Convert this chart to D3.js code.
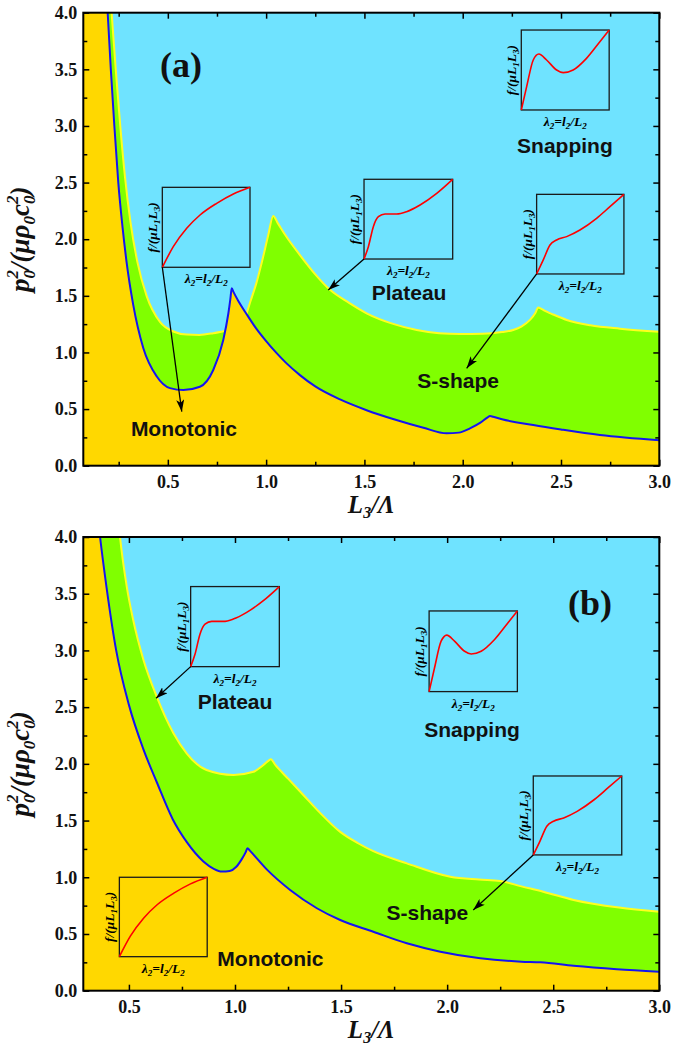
<!DOCTYPE html>
<html><head><meta charset="utf-8">
<script src="https://cdn.jsdelivr.net/npm/d3@7"></script>
<style>body{margin:0;background:#fff}svg{display:block}</style>
</head><body>
<svg id="c" width="675" height="1049"></svg>
<script>
// ---------- DATA ----------
const xTickValues = [0.5, 1.0, 1.5, 2.0, 2.5, 3.0];
const yTickValues = [0, 0.5, 1.0, 1.5, 2.0, 2.5, 3.0, 3.5, 4.0];

// Panel (a) boundaries
const blueA_x = [0.185,0.194,0.21,0.228,0.248,0.27,0.29,0.324,0.375,0.443,0.511,0.579,0.663,0.731,0.782,0.808,0.818,0.825,0.835,0.86,0.9,0.95,1.0,1.05,1.1,1.172,1.25,1.376,1.511,1.65,1.8,1.918,1.98,2.037,2.09,2.125,2.139,2.155,2.2,2.359,2.5,2.698,3.0];
const blueA_y = [4.3,4.0,3.5,3.0,2.5,2.1,1.8,1.42,1.04,0.79,0.685,0.668,0.697,0.845,1.11,1.346,1.47,1.566,1.53,1.45,1.34,1.21,1.10,1.00,0.91,0.80,0.70,0.585,0.49,0.41,0.335,0.286,0.292,0.33,0.38,0.425,0.439,0.432,0.41,0.359,0.32,0.271,0.225];
const yellowA1_x = [0.205,0.214,0.235,0.258,0.282,0.31,0.345,0.392,0.46,0.528,0.596,0.66,0.731,0.79];
const yellowA1_y = [4.2,4.0,3.5,3.0,2.55,2.15,1.8,1.50,1.27,1.185,1.158,1.155,1.17,1.19];
const yellowA2_x = [0.9,0.92,0.95,0.98,1.01,1.036,1.06,1.1,1.172,1.25,1.325,1.42,1.511,1.65,1.766,1.88,1.986,2.1,2.2,2.257,2.30,2.342,2.37,2.384,2.40,2.427,2.46,2.529,2.65,2.8,3.0];
const yellowA2_y = [1.34,1.45,1.61,1.81,2.03,2.205,2.14,2.03,1.86,1.69,1.553,1.44,1.346,1.25,1.198,1.17,1.163,1.165,1.18,1.198,1.23,1.287,1.35,1.398,1.385,1.36,1.335,1.287,1.24,1.21,1.183];

// Panel (b) boundaries
const blueB_x = [0.355,0.364,0.395,0.44,0.50,0.568,0.631,0.707,0.773,0.851,0.90,0.938,0.975,1.005,1.032,1.05,1.059,1.07,1.152,1.26,1.386,1.496,1.652,1.81,1.968,2.156,2.35,2.44,2.596,2.8,3.0];
const blueB_y = [4.15,4.0,3.55,3.0,2.52,2.13,1.84,1.51,1.31,1.14,1.075,1.05,1.055,1.09,1.16,1.22,1.256,1.235,1.065,0.888,0.727,0.623,0.52,0.418,0.344,0.286,0.256,0.25,0.22,0.19,0.168];
const yellowB_x = [0.45,0.458,0.49,0.52,0.568,0.631,0.71,0.772,0.866,0.993,1.087,1.134,1.16,1.169,1.19,1.25,1.32,1.40,1.496,1.58,1.652,1.81,2.015,2.15,2.25,2.35,2.453,2.596,2.81,3.0];
const yellowB_y = [4.15,4.0,3.56,3.27,2.92,2.593,2.27,2.093,1.946,1.902,1.93,1.99,2.03,2.04,1.99,1.87,1.73,1.57,1.40,1.30,1.23,1.123,1.005,0.98,0.967,0.92,0.873,0.80,0.733,0.697];

// Inset curves (normalised stretch vs. force)
const monoX = [0,0.125,0.278,0.43,0.62,0.81,1];
const monoY = [0,0.258,0.4875,0.654,0.8,0.917,1];
const platX = [0,0.049,0.105,0.162,0.237,0.368,0.48,0.632,0.82,1];
const platY = [0,0.155,0.406,0.531,0.565,0.565,0.594,0.678,0.824,1];
const sX = [0,0.076,0.153,0.229,0.344,0.496,0.687,0.84,1];
const sY = [0,0.176,0.364,0.427,0.469,0.552,0.699,0.845,1];
const snapX = [0,0.061,0.136,0.2,0.288,0.402,0.477,0.59,0.742,0.894,1];
const snapY = [0,0.292,0.625,0.7,0.625,0.5,0.467,0.5,0.646,0.854,1];

// Annotations (data units): inset boxes [x0,yBottom,x1,yTop]
const insetsA = [
  {box:[0.472,1.752,0.918,2.458], cx:monoX, cy:monoY, arrow:[0.571,0.477]},
  {box:[1.498,1.825,1.949,2.529], cx:platX, cy:platY, arrow:[1.316,1.551]},
  {box:[2.376,1.693,2.820,2.396], cx:sX, cy:sY, arrow:[2.020,0.860]},
  {box:[2.298,3.141,2.745,3.847], cx:snapX, cy:snapY, arrow:null}
];
const labelsA = [
  {t:"Monotonic", x:0.582, y:0.262}, {t:"Plateau", x:1.727, y:1.463},
  {t:"S-shape", x:1.977, y:0.683}, {t:"Snapping", x:2.52, y:2.764}
];
const insetsB = [
  {box:[0.791,2.857,1.209,3.563], cx:platX, cy:platY, arrow:[0.628,2.578]},
  {box:[1.915,2.637,2.331,3.348], cx:snapX, cy:snapY, arrow:null},
  {box:[2.406,1.197,2.823,1.893], cx:sX, cy:sY, arrow:[2.123,0.712]},
  {box:[0.455,0.30,0.869,1.0], cx:monoX, cy:monoY, arrow:null}
];
const labelsB = [
  {t:"Plateau", x:1.0, y:2.481}, {t:"Snapping", x:2.117, y:2.240},
  {t:"S-shape", x:1.907, y:0.623}, {t:"Monotonic", x:1.167, y:0.218}
];

// ---------- DRAW ----------
const svg = d3.select("#c");
const COL = {gold:"#FFD800", green:"#80FF00", sky:"#6FE3FF", blue:"#1414F0", yellow:"#FFFF1E"};
const serif = "'Liberation Serif','Times New Roman',serif";
const sans = "'Liberation Sans',Arial,sans-serif";

const defs = svg.append("defs");
defs.append("marker").attr("id","arr").attr("viewBox","0 0 12 8")
  .attr("refX",12).attr("refY",4).attr("markerWidth",12).attr("markerHeight",8)
  .attr("markerUnits","userSpaceOnUse").attr("orient","auto")
  .append("path").attr("d","M0,0 L12,4 L0,8 L3,4 Z").attr("fill","#000");

const zip = (xs, ys) => xs.map((x,i)=>[x, ys[i]]);

function panel(id, xDom, y0px, y1px, blue, yellows, insets, labels, tag, tagPos) {
  const L = 83.3, R = 659.3;
  const x = d3.scaleLinear(xDom, [L, R]);
  const y = d3.scaleLinear([0, 4], [y1px, y0px]);
  const g = svg.append("g");
  defs.append("clipPath").attr("id","clip"+id).append("rect")
    .attr("x",L).attr("y",y0px).attr("width",R-L).attr("height",y1px-y0px);
  const plot = g.append("g").attr("clip-path",`url(#clip${id})`);
  plot.append("rect").attr("x",L).attr("y",y0px).attr("width",R-L).attr("height",y1px-y0px).attr("fill",COL.sky);
  const line = d3.line().x(d=>x(d[0])).y(d=>y(d[1])).curve(d3.curveMonotoneX);
  const region = pts => {
    const first = pts[0], last = pts[pts.length-1];
    let d = line(pts) + `L${x(last[0])},${y(0)}`;
    if (first[1] > 4) d += `L${L-2},${y(0)}L${L-2},${y(first[1])}Z`;
    else d += `L${x(first[0])},${y(0)}Z`;
    return d;
  };
  yellows.forEach(yl => plot.append("path").attr("d", region(yl)).attr("fill", COL.green));
  plot.append("path").attr("d", region(blue)).attr("fill", COL.gold);
  yellows.forEach(yl => plot.append("path").attr("d", line(yl)).attr("fill","none").attr("stroke",COL.yellow).attr("stroke-width",2));
  plot.append("path").attr("d", line(blue)).attr("fill","none").attr("stroke",COL.blue).attr("stroke-width",2);

  insets.forEach(ins => {
    const [bx0, by0, bx1, by1] = ins.box;
    const ix = d3.scaleLinear([0,1],[x(bx0), x(bx1)]);
    const iy = d3.scaleLinear([0,1],[y(by0), y(by1)]);
    g.append("rect").attr("x",x(bx0)).attr("y",y(by1)).attr("width",x(bx1)-x(bx0)).attr("height",y(by0)-y(by1))
      .attr("fill","none").attr("stroke","#1a1a1a").attr("stroke-width",1.3);
    g.append("path").attr("d", d3.line().x(d=>ix(d[0])).y(d=>iy(d[1])).curve(d3.curveMonotoneX)(zip(ins.cx, ins.cy)))
      .attr("fill","none").attr("stroke","#FF0000").attr("stroke-width",1.6);
    const tx = g.append("text").attr("x",(x(bx0)+x(bx1))/2).attr("y",y(by0)+16)
      .attr("text-anchor","middle").attr("font-family",serif).attr("font-style","italic").attr("font-weight","bold").attr("font-size",13.5);
    tx.append("tspan").text("λ");
    tx.append("tspan").attr("font-size",9).attr("dy",3).text("2");
    tx.append("tspan").attr("dy",-3).text("=l");
    tx.append("tspan").attr("font-size",9).attr("dy",3).text("2");
    tx.append("tspan").attr("dy",-3).text("/L");
    tx.append("tspan").attr("font-size",9).attr("dy",3).text("2");
    const cxl = x(bx0)-5, cyl = (y(by0)+y(by1))/2;
    const ty = g.append("text").attr("transform",`translate(${cxl},${cyl}) rotate(-90)`)
      .attr("text-anchor","middle").attr("font-family",serif).attr("font-style","italic").attr("font-weight","bold").attr("font-size",13.5);
    ty.append("tspan").text("f/(μL");
    ty.append("tspan").attr("font-size",9).attr("dy",3).text("1");
    ty.append("tspan").attr("dy",-3).text("L");
    ty.append("tspan").attr("font-size",9).attr("dy",3).text("3");
    ty.append("tspan").attr("dy",-3).text(")");
    if (ins.arrow) {
      g.append("line").attr("x1",x(bx0)).attr("y1",y(by0)).attr("x2",x(ins.arrow[0])).attr("y2",y(ins.arrow[1]))
        .attr("stroke","#000").attr("stroke-width",1.3).attr("marker-end","url(#arr)");
    }
  });
  labels.forEach(l => g.append("text").attr("x",x(l.x)).attr("y",y(l.y)).attr("text-anchor","middle")
    .attr("font-family",sans).attr("font-weight","bold").attr("font-size",21).attr("fill","#111").text(l.t));
  g.append("text").attr("x",x(tagPos[0])).attr("y",y(tagPos[1])).attr("text-anchor","middle")
    .attr("font-family",serif).attr("font-weight","bold").attr("font-size",36).attr("fill","#111").text(tag);

  const minorX = d3.range(0.25, 3.001, 0.25).filter(v => v >= xDom[0] && xTickValues.indexOf(+v.toFixed(2)) < 0);
  const minorY = d3.range(0.25, 4, 0.5);
  const fmt = d3.format(".1f");
  const axStyle = sel => { sel.select(".domain").remove(); sel.selectAll("line").attr("stroke","#000").attr("stroke-width",1.5);
    sel.selectAll("text").attr("font-family",serif).attr("font-weight","bold").attr("font-size",18).attr("fill","#111"); };
  g.append("g").attr("transform",`translate(0,${y1px})`).call(d3.axisBottom(x).tickValues(xTickValues).tickSize(-6).tickPadding(10).tickFormat(fmt)).call(axStyle);
  g.append("g").attr("transform",`translate(0,${y1px})`).call(d3.axisBottom(x).tickValues(minorX).tickSize(-4).tickFormat("")).call(axStyle);
  g.append("g").attr("transform",`translate(0,${y0px})`).call(d3.axisTop(x).tickValues(xTickValues).tickSize(-6).tickFormat("")).call(axStyle);
  g.append("g").attr("transform",`translate(0,${y0px})`).call(d3.axisTop(x).tickValues(minorX).tickSize(-4).tickFormat("")).call(axStyle);
  g.append("g").attr("transform",`translate(${L},0)`).call(d3.axisLeft(y).tickValues(yTickValues).tickSize(-6).tickPadding(6).tickFormat(fmt)).call(axStyle);
  g.append("g").attr("transform",`translate(${L},0)`).call(d3.axisLeft(y).tickValues(minorY).tickSize(-4).tickFormat("")).call(axStyle);
  g.append("g").attr("transform",`translate(${R},0)`).call(d3.axisRight(y).tickValues(yTickValues).tickSize(-6).tickFormat("")).call(axStyle);
  g.append("g").attr("transform",`translate(${R},0)`).call(d3.axisRight(y).tickValues(minorY).tickSize(-4).tickFormat("")).call(axStyle);
  g.append("rect").attr("x",L).attr("y",y0px).attr("width",R-L).attr("height",y1px-y0px)
    .attr("fill","none").attr("stroke","#000").attr("stroke-width",2);

  const xt = g.append("text").attr("x",(L+R)/2).attr("y",y1px+47).attr("text-anchor","middle")
    .attr("font-family",serif).attr("font-style","italic").attr("font-weight","bold").attr("font-size",25).attr("fill","#111");
  xt.append("tspan").text("L");
  xt.append("tspan").attr("font-size",16).attr("dy",5).text("3");
  xt.append("tspan").attr("dy",-5).text("/Λ");
  const yt = g.append("text").attr("transform",`translate(29,${(y0px+y1px)/2}) rotate(-90)`).attr("text-anchor","middle")
    .attr("font-family",serif).attr("font-style","italic").attr("font-weight","bold").attr("font-size",27).attr("fill","#111");
  yt.append("tspan").text("p");
  yt.append("tspan").attr("font-size",17).attr("dy",-11).text("2");
  yt.append("tspan").attr("font-size",17).attr("dx",-8.5).attr("dy",17).text("0");
  yt.append("tspan").attr("dy",-6).text("/(μρ");
  yt.append("tspan").attr("font-size",17).attr("dy",6).text("0");
  yt.append("tspan").attr("dy",-6).text("c");
  yt.append("tspan").attr("font-size",17).attr("dy",-11).text("2");
  yt.append("tspan").attr("font-size",17).attr("dx",-8.5).attr("dy",17).text("0");
  yt.append("tspan").attr("dy",-6).text(")");
}

panel("A", [0.07, 3.0], 12.7, 465.7, zip(blueA_x, blueA_y), [zip(yellowA1_x, yellowA1_y), zip(yellowA2_x, yellowA2_y)], insetsA, labelsA, "(a)", [0.567, 3.432]);
panel("B", [0.285, 3.0], 537, 990.7, zip(blueB_x, blueB_y), [zip(yellowB_x, yellowB_y)], insetsB, labelsB, "(b)", [2.673, 3.313]);
</script>
</body></html>
